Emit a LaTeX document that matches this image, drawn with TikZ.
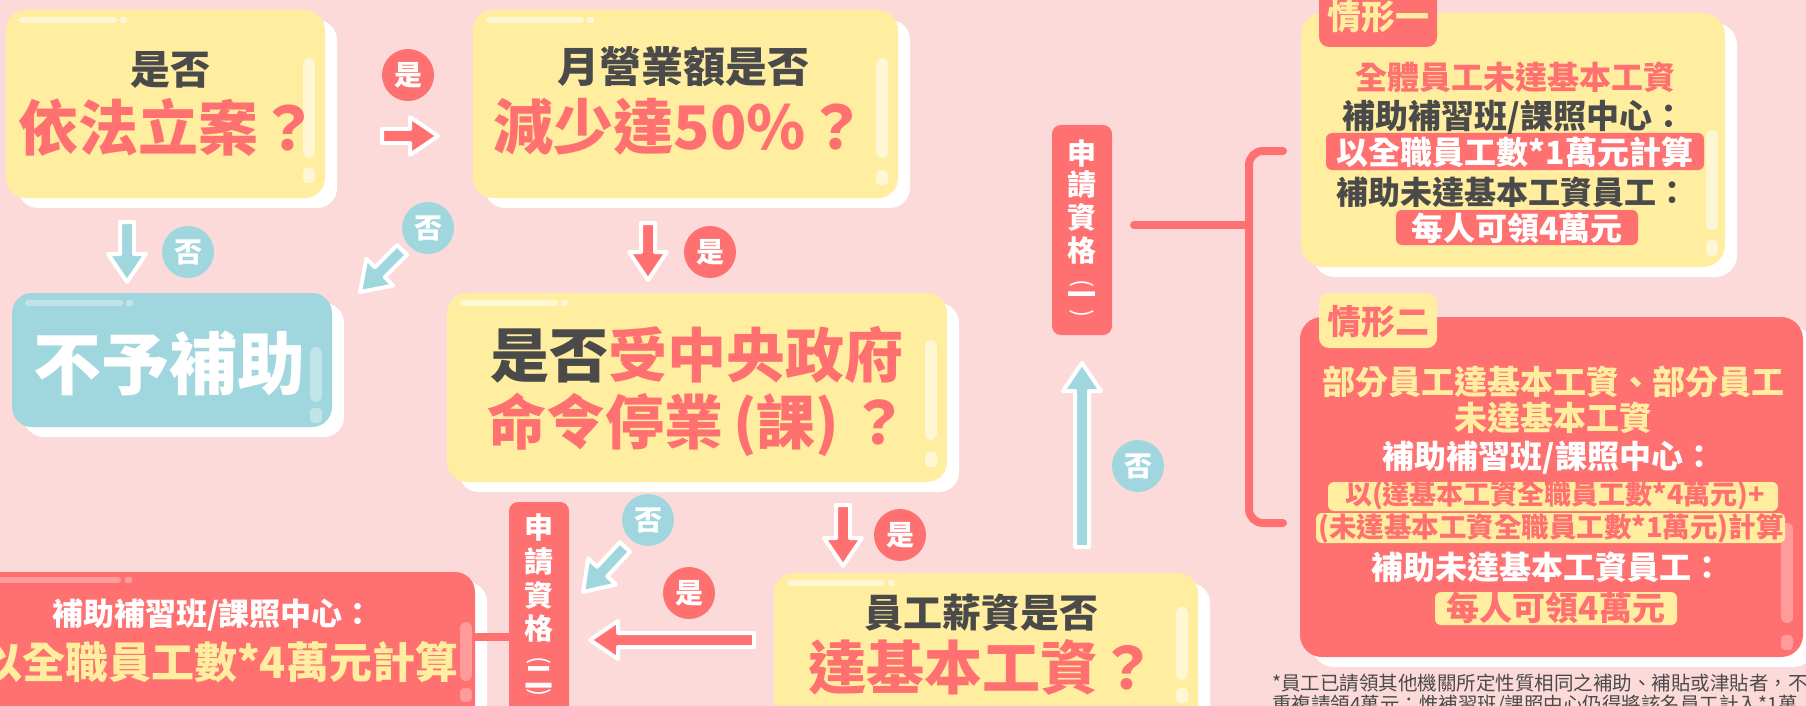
\documentclass[tikz,border=0pt]{standalone}
\usepackage{fontspec}
\setmainfont{Noto Sans CJK TC}
\usetikzlibrary{shadows}
\definecolor{bg}{RGB}{253,218,218}
\definecolor{myred}{RGB}{255,112,112}
\definecolor{myyel}{RGB}{255,237,160}
\definecolor{myteal}{RGB}{160,215,222}
\definecolor{mydark}{RGB}{74,74,74}
\newcommand\myfs[1]{\fontsize{#1}{#1}\selectfont\bfseries}
\newcommand\mynf[1]{\fontsize{#1}{#1}\selectfont}
\newcommand\rbox[6]{\node[#2, minimum width={#5-#3}, minimum height={#6-#4}] (#1) at ({(#3+#5)/2},{(#4+#6)/2}) {};}
\newcommand\barrow[3]{%
  \pgfpointdiff{\pgfpointanchor{#1}{center}}{\pgfpointanchor{#2}{center}}%
  \pgfgetlastxy{\ddx}{\ddy}%
  \pgfmathsetmacro\aang{atan2(\ddy,\ddx)}%
  \pgfmathsetmacro\alen{veclen(\ddx,\ddy)}%
  \begin{scope}[shift={(#1)},rotate=\aang,x=1pt,y=1pt]
    \filldraw[fill=#3,draw=white,line width=4pt,line join=round]
      (0,-7) -- ({\alen-28},-7) -- ({\alen-28},-19) -- (\alen,0) -- ({\alen-28},19) -- ({\alen-28},7) -- (0,7) -- cycle;
  \end{scope}}
\newcommand\hlset[7]{%
  \draw[white,opacity=#7,line width=6pt,line cap=round] ({#1+16},{#2+10}) -- ({#1+108},{#2+10});
  \fill[white,opacity=#7,rounded corners=1.5pt] ({#1+114},{#2+7}) rectangle ({#1+121},{#2+13});
  \draw[white,opacity=#7,line width=12pt,line cap=round] ({#3-16},#4) -- ({#3-16},#5);
  \fill[white,opacity=#7,rounded corners=4pt] ({#3-22},#6) rectangle ({#3-10},{#6+15});}
\begin{document}
\begin{tikzpicture}[x=1pt,y=-1pt,
  box/.style={rounded corners=20pt, inner sep=0pt, outer sep=0pt,
    general shadow={fill=white, shadow xshift=12pt, shadow yshift=-10pt}},
  vbox/.style={fill=myred, rounded corners=9pt, inner sep=0pt, outer sep=0pt},
  tab/.style={rounded corners=10pt, inner sep=0pt, outer sep=0pt},
  pill/.style={rounded corners=6pt, inner sep=0pt, outer sep=0pt},
  txt/.style={inner sep=0pt, outer sep=0pt, anchor=center},
  lbl/.style={circle, inner sep=0pt, minimum size=52pt, text=white, font=\myfs{28}},
  vt/.style={txt, text=white, font=\myfs{29}},
  vp/.style={txt, text=white, font=\mynf{24}, rotate=-90},
  brline/.style={myred, line width=8pt, line cap=round}]
\useasboundingbox (0,0) rectangle (1806,706);
\clip (0,0) rectangle (1806,706);
\fill[bg] (0,0) rectangle (1806,706);

% ---------- boxes
\rbox{b1}{box,fill=myyel}{6}{10}{325}{198}
\rbox{b2}{box,fill=myyel}{473}{10}{898}{198}
\rbox{b0}{box,fill=myteal}{12}{293}{332}{427}
\rbox{b3}{box,fill=myyel}{447}{293}{947}{482}
\rbox{b4}{box,fill=myyel}{774}{573}{1198}{745}
\rbox{b5}{box,fill=myred}{-40}{572}{475}{745}
\rbox{q1}{vbox}{1052}{125}{1112}{335}
\rbox{q2}{vbox}{509}{502}{569}{760}
\rbox{c1}{box,fill=myyel,rounded corners=22pt}{1301}{13}{1725}{267}
\rbox{c2}{box,fill=myred,rounded corners=22pt}{1300}{317}{1803}{657}
\rbox{k1}{tab,fill=myred}{1319}{-20}{1437}{47}
\rbox{k2}{tab,fill=myyel}{1319}{293}{1437}{348}

% ---------- highlights
\hlset{6}{10}{325}{64}{152}{168}{0.55}
\hlset{473}{10}{898}{64}{152}{170}{0.55}
\hlset{12}{293}{332}{353}{396}{408}{0.35}
\hlset{447}{293}{947}{346}{434}{452}{0.55}
\hlset{774}{573}{1198}{613}{674}{688}{0.55}
\draw[white,opacity=0.3,line width=6pt,line cap=round] (-10,580) -- (118,580);
\fill[white,opacity=0.3,rounded corners=1.5pt] (125,577) rectangle (132,583);
\draw[white,opacity=0.3,line width=12pt,line cap=round] (466,628) -- (466,675);
\fill[white,opacity=0.3,rounded corners=4pt] (460,688) rectangle (472,702);
\draw[white,opacity=0.55,line width=12pt,line cap=round] (1712,136) -- (1712,224);
\fill[white,opacity=0.55,rounded corners=4pt] (1706,240) rectangle (1718,256);
\draw[white,opacity=0.3,line width=12pt,line cap=round] (1787,529) -- (1787,617);
\fill[white,opacity=0.3,rounded corners=4pt] (1781,635) rectangle (1793,650);

% ---------- pills
\rbox{p1}{pill,fill=myred}{1326}{133}{1704}{170}
\rbox{p2}{pill,fill=myred}{1396}{210}{1638}{245}
\rbox{p3}{pill,fill=myyel}{1328}{482}{1778}{511}
\rbox{p4}{pill,fill=myyel}{1316}{513}{1785}{543}
\rbox{p5}{pill,fill=myyel}{1435}{592}{1677}{625}

% ---------- connectors
\coordinate (j0) at (1134,225); \coordinate (j1) at (1249,225);
\coordinate (jt) at (1283,151); \coordinate (jb) at (1283,523);
\draw[brline] (j0) -- (j1);
\draw[brline, rounded corners=14pt] (jt) -- (jt -| j1) -- (jb -| j1) -- (jb);
\coordinate (m0) at (475,637); \coordinate (m1) at (509,637);
\draw[myred,line width=8pt] (m0) -- (m1);

% ---------- arrows
\coordinate (a1s) at (382,136); \coordinate (a1e) at (438,136);
\coordinate (a2s) at (127,222); \coordinate (a2e) at (127,282);
\coordinate (a3s) at (402,250); \coordinate (a3e) at (360,292);
\coordinate (a4s) at (648,223); \coordinate (a4e) at (648,280);
\coordinate (a5s) at (843,505); \coordinate (a5e) at (843,566);
\coordinate (a6s) at (1082,547); \coordinate (a6e) at (1082,363);
\coordinate (a7s) at (754,640); \coordinate (a7e) at (590,640);
\coordinate (a8s) at (625,547); \coordinate (a8e) at (583,592);
\barrow{a1s}{a1e}{myred}
\barrow{a2s}{a2e}{myteal}
\barrow{a3s}{a3e}{myteal}
\barrow{a4s}{a4e}{myred}
\barrow{a5s}{a5e}{myred}
\barrow{a6s}{a6e}{myteal}
\barrow{a7s}{a7e}{myred}
\barrow{a8s}{a8e}{myteal}

% ---------- yes/no labels
\node[lbl,fill=myred] (l1) at (408,75) {是};
\node[lbl,fill=myteal] (l2) at (188,252) {否};
\node[lbl,fill=myteal] (l3) at (428,228) {否};
\node[lbl,fill=myred] (l4) at (710,252) {是};
\node[lbl,fill=myred] (l5) at (900,535) {是};
\node[lbl,fill=myteal] (l6) at (1138,466) {否};
\node[lbl,fill=myteal] (l7) at (648,520) {否};
\node[lbl,fill=myred] (l8) at (689,593) {是};

% ---------- box texts
\node[txt,text=mydark,font=\myfs{40}] (t1a) at (170,70) {是否};
\node[txt,text=myred,font=\myfs{60}] (t1b) at (168,127) {依法立案？};
\node[txt,text=mydark,font=\myfs{42}] (t2a) at (683,67) {月營業額是否};
\node[txt,text=myred,font=\myfs{60}] (t2b) at (680,127) {減少達50\%？};
\node[txt,text=white,font=\myfs{68}] (t0) at (169,363) {不予補助};
\node[txt,text=mydark,font=\myfs{59}] (t3a) at (697,355) {是否\textcolor{myred}{受中央政府}};
\node[txt,text=myred,font=\myfs{59}] (t3b) at (698,425) {命令停業\,(課)\,？};
\node[txt,text=mydark,font=\myfs{39}] (t4a) at (981,613) {員工薪資是否};
\node[txt,text=myred,font=\myfs{58}] (t4b) at (982,667) {達基本工資？};
\node[txt,text=white,font=\myfs{31}] (t5a) at (213,615) {補助補習班/課照中心：};
\node[txt,text=myyel,font=\myfs{43},anchor=east] (t5b) at (458,662) {以全職員工數*4萬元計算};

% vertical labels
\foreach \c/\yy/\k in {申/153/1,請/185/2,資/217/3,格/250/4}
  \node[vt] (q1t\k) at (1082,\yy) {\c};
\node[vp] (q1t5) at (1082,284) {(};
\node[vt] (q1t6) at (1082,299) {一};
\node[vp] (q1t7) at (1082,314) {)};
\foreach \c/\yy/\k in {申/527/1,請/562/2,資/595/3,格/628/4}
  \node[vt] (q2t\k) at (539,\yy) {\c};
\node[vp] (q2t5) at (539,661) {(};
\node[vt] (q2t6) at (539,677) {二};
\node[vp] (q2t7) at (539,693) {)};

% case 1
\node[txt,text=myyel,font=\myfs{34}] (k1t) at (1378,17) {情形一};
\node[txt,text=myred,font=\myfs{32}] (c1a) at (1515,77) {全體員工未達基本工資};
\node[txt,text=mydark,font=\myfs{33}] (c1b) at (1514,117) {補助補習班/課照中心：};
\node[txt,text=white,font=\myfs{32}] (c1c) at (1515,152) {以全職員工數*1萬元計算};
\node[txt,text=mydark,font=\myfs{32}] (c1d) at (1512,192) {補助未達基本工資員工：};
\node[txt,text=white,font=\myfs{32}] (c1e) at (1517,228) {每人可領4萬元};

% case 2
\node[txt,text=myred,font=\myfs{34}] (k2t) at (1378,322) {情形二};
\node[txt,text=myyel,font=\myfs{33}] (c2a) at (1553,382) {部分員工達基本工資、部分員工};
\node[txt,text=myyel,font=\myfs{33}] (c2b) at (1553,418) {未達基本工資};
\node[txt,text=white,font=\myfs{32}] (c2c) at (1549,458) {補助補習班/課照中心：};
\node[txt,text=myred,font=\myfs{27}] (c2d) at (1555,496) {以(達基本工資全職員工數*4萬元)+};
\node[txt,text=myred,font=\myfs{27.5}] (c2e) at (1551,528) {(未達基本工資全職員工數*1萬元)計算};
\node[txt,text=white,font=\myfs{32}] (c2f) at (1547,567) {補助未達基本工資員工：};
\node[txt,text=myred,font=\myfs{33}] (c2g) at (1556,608) {每人可領4萬元};

% footnote
\node[txt,anchor=west,text=mydark,font=\mynf{19.5}] (fn1) at (1272,683) {*員工已請領其他機關所定性質相同之補助、補貼或津貼者，不};
\node[txt,anchor=west,text=mydark,font=\mynf{19.5}] (fn2) at (1272,705) {重複請領4萬元；惟補習班/課照中心仍得將該名員工計入*1萬};
\end{tikzpicture}
\end{document}
